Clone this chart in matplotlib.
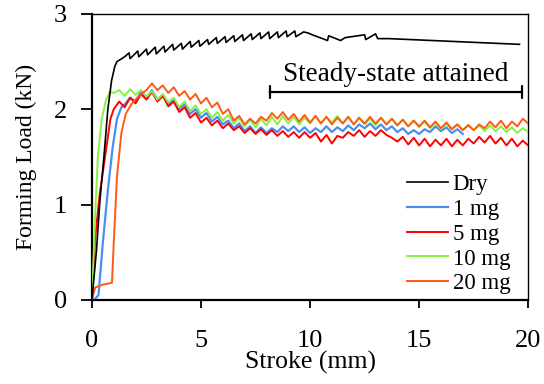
import numpy as np
import matplotlib
matplotlib.use("Agg")
import matplotlib.pyplot as plt

plt.rcParams['font.family'] = ['Liberation Serif', 'DejaVu Serif']
plt.rcParams['mathtext.fontset'] = 'stix'

# ---------------- data ----------------
dry_x = [0, 0.2, 0.37, 0.55, 0.73, 0.9, 1.05, 1.15, 1.3, 1.5,
         1.7, 1.75, 2.1, 2.15, 2.5, 2.55, 2.9, 2.95, 3.3, 3.35,
         3.7, 3.75, 4.1, 4.15, 4.5, 4.55, 4.9, 4.95, 5.3, 5.35,
         5.7, 5.75, 6.1, 6.15, 6.5, 6.55, 6.9, 6.95, 7.3, 7.35,
         7.7, 7.75, 8.1, 8.15, 8.5, 8.55, 8.9, 8.95, 9.3, 9.35,
         9.7, 9.9, 10.1, 10.8, 10.85, 11.4, 11.6, 12.5, 12.55, 13.0,
         13.1, 13.6, 19.6]
dry_y = [0, 0.5, 1.05, 1.5, 2.0, 2.3, 2.45, 2.5, 2.52, 2.55,
         2.59, 2.53, 2.61, 2.55, 2.63, 2.57, 2.65, 2.58, 2.66, 2.60,
         2.68, 2.62, 2.69, 2.63, 2.71, 2.65, 2.72, 2.66, 2.73, 2.68,
         2.75, 2.69, 2.76, 2.70, 2.77, 2.71, 2.78, 2.72, 2.79, 2.73,
         2.80, 2.74, 2.81, 2.74, 2.81, 2.75, 2.82, 2.76, 2.82, 2.76,
         2.81, 2.80, 2.78, 2.72, 2.77, 2.72, 2.75, 2.78, 2.73, 2.79,
         2.74, 2.74, 2.68]

# 1 mg
mg1_rise_x = [0.1, 0.3, 0.5, 0.73, 0.95, 1.15, 1.35]
mg1_rise_y = [0, 0.05, 0.6, 1.15, 1.6, 1.9, 2.02]
mg1_start, mg1_end = 1.5, 17.0
mg1_vals = [2.05, 2.12, 2.08, 2.18, 2.12, 2.20, 2.10, 2.15, 2.05, 2.10,
            2.00, 2.05, 1.95, 2.00, 1.91, 1.96, 1.87, 1.92, 1.84, 1.88,
            1.80, 1.85, 1.77, 1.82, 1.75, 1.81, 1.75, 1.80, 1.76, 1.82,
            1.77, 1.82, 1.76, 1.81, 1.75, 1.80, 1.76, 1.82, 1.76, 1.81,
            1.77, 1.83, 1.78, 1.84, 1.80, 1.85, 1.79, 1.84, 1.78, 1.82,
            1.76, 1.80, 1.74, 1.78, 1.74, 1.79, 1.76, 1.82, 1.77, 1.81,
            1.75, 1.79, 1.74]

# 5 mg
mg5_rise_x = [0, 0.14, 0.35, 0.6, 0.85]
mg5_rise_y = [0, 0.63, 1.1, 1.5, 1.9]
mg5_start, mg5_end = 1.0, 20.0
mg5_vals = [2.00, 2.08, 2.02, 2.12, 2.06, 2.16, 2.10, 2.18, 2.08, 2.14,
            2.03, 2.08, 1.97, 2.02, 1.91, 1.96, 1.86, 1.91, 1.83, 1.88,
            1.80, 1.85, 1.78, 1.82, 1.75, 1.80, 1.74, 1.79, 1.73, 1.78,
            1.72, 1.77, 1.71, 1.76, 1.70, 1.76, 1.70, 1.75, 1.66, 1.73,
            1.64, 1.72, 1.70, 1.76, 1.72, 1.78, 1.71, 1.77, 1.72, 1.78,
            1.73, 1.70, 1.66, 1.71, 1.63, 1.70, 1.62, 1.69, 1.61, 1.68,
            1.62, 1.69, 1.61, 1.68, 1.62, 1.69, 1.64, 1.71, 1.65, 1.72,
            1.64, 1.70, 1.62, 1.69, 1.61, 1.67, 1.62]

# 10 mg
mg10_rise_x = [0, 0.05, 0.15, 0.27, 0.45, 0.65, 0.83]
mg10_rise_y = [0, 0.3, 0.9, 1.5, 1.9, 2.1, 2.18]
mg10_start, mg10_end = 1.0, 20.0
mg10_vals = [2.17, 2.20, 2.14, 2.21, 2.15, 2.20, 2.13, 2.19, 2.10, 2.16,
             2.07, 2.12, 2.02, 2.08, 1.98, 2.04, 1.95, 2.00, 1.91, 1.97,
             1.88, 1.94, 1.85, 1.91, 1.82, 1.89, 1.81, 1.90, 1.83, 1.92,
             1.84, 1.93, 1.85, 1.92, 1.84, 1.91, 1.85, 1.93, 1.85, 1.92,
             1.86, 1.93, 1.85, 1.92, 1.84, 1.91, 1.84, 1.90, 1.83, 1.91,
             1.84, 1.90, 1.83, 1.89, 1.82, 1.88, 1.81, 1.87, 1.80, 1.86,
             1.79, 1.85, 1.79, 1.84, 1.78, 1.84, 1.78, 1.83, 1.77, 1.83,
             1.77, 1.82, 1.76, 1.81, 1.75, 1.80, 1.76]

# 20 mg
mg20_rise_x = [0, 0.15, 0.5, 0.92, 1.0, 1.15, 1.35, 1.55, 1.8]
mg20_rise_y = [0, 0.13, 0.16, 0.18, 0.6, 1.3, 1.75, 1.95, 2.05]
mg20_start, mg20_end = 2.0, 20.0
mg20_vals = [2.10, 2.16, 2.20, 2.27, 2.20, 2.25, 2.17, 2.23, 2.14, 2.19,
             2.10, 2.16, 2.06, 2.12, 2.02, 2.07, 1.95, 2.00, 1.88, 1.93,
             1.84, 1.90, 1.85, 1.92, 1.88, 1.96, 1.90, 1.97, 1.89, 1.95,
             1.87, 1.94, 1.86, 1.93, 1.85, 1.92, 1.84, 1.91, 1.85, 1.92,
             1.84, 1.91, 1.85, 1.92, 1.85, 1.91, 1.84, 1.90, 1.83, 1.89,
             1.82, 1.88, 1.82, 1.88, 1.81, 1.87, 1.80, 1.86, 1.79, 1.84,
             1.78, 1.83, 1.78, 1.84, 1.80, 1.87, 1.81, 1.88, 1.80, 1.87,
             1.82, 1.90, 1.85]

labels = ['Dry', '1 mg', '5 mg', '10 mg', '20 mg']
colors = ['#000000', '#4a8ff0', '#ff0000', '#88f040', '#ff5a14']

x_ticks = [0, 5, 10, 15, 20]
y_ticks = [0, 1, 2, 3]

steady_from, steady_to, steady_level = 8.15, 19.7, 2.18
steady_text = 'Steady-state attained'


def series(rx, ry, start, end, vals):
    gx = np.linspace(start, end, len(vals))
    return np.concatenate([rx, gx]), np.concatenate([ry, vals])


# ---------------- plot ----------------
fig = plt.figure(figsize=(5.44, 3.84), dpi=100)
ax = fig.add_axes([0.169, 0.219, 0.802, 0.745])

ax.plot(dry_x, dry_y, color=colors[0], lw=1.2, label=labels[0], zorder=5)
x1, y1 = series(mg1_rise_x, mg1_rise_y, mg1_start, mg1_end, mg1_vals)
ax.plot(x1, y1, color=colors[1], lw=1.6, label=labels[1], zorder=2)
x5, y5 = series(mg5_rise_x, mg5_rise_y, mg5_start, mg5_end, mg5_vals)
ax.plot(x5, y5, color=colors[2], lw=1.4, label=labels[2], zorder=3)
x10, y10 = series(mg10_rise_x, mg10_rise_y, mg10_start, mg10_end, mg10_vals)
ax.plot(x10, y10, color=colors[3], lw=1.4, label=labels[3], zorder=3.5)
x20, y20 = series(mg20_rise_x, mg20_rise_y, mg20_start, mg20_end, mg20_vals)
ax.plot(x20, y20, color=colors[4], lw=1.4, label=labels[4], zorder=4)

ax.annotate('', xy=(steady_from, steady_level), xytext=(steady_to, steady_level),
            arrowprops=dict(arrowstyle='|-|, widthA=0.4, widthB=0.4',
                            lw=1.6, color='black', shrinkA=0, shrinkB=0))
ax.text((steady_from + steady_to) / 2, 2.36, steady_text,
        ha='center', va='center', fontsize=19.5)

ax.set_xlim(0, 20)
ax.set_ylim(0, 3)
ax.set_xticks(x_ticks)
ax.set_yticks(y_ticks)
ax.tick_params(direction='out', width=1.3, labelsize=19)
ax.tick_params(axis='x', length=6, pad=16)
ax.tick_params(axis='y', length=8, pad=10)
for s in ['left', 'bottom']:
    ax.spines[s].set_linewidth(1.6)
for s in ['top', 'right']:
    ax.spines[s].set_linewidth(1.0)

ax.set_xlabel('Stroke (mm)', fontsize=18.5, labelpad=-1)
ax.set_ylabel('Forming Load (kN)', fontsize=17, labelpad=12)

leg = ax.legend(loc='lower right', frameon=False, fontsize=16.5,
                handlelength=1.8, handletextpad=0.2, labelspacing=0.17,
                borderaxespad=0.0, bbox_to_anchor=(0.98, -0.013))

fig.savefig('out.png', dpi=100)
